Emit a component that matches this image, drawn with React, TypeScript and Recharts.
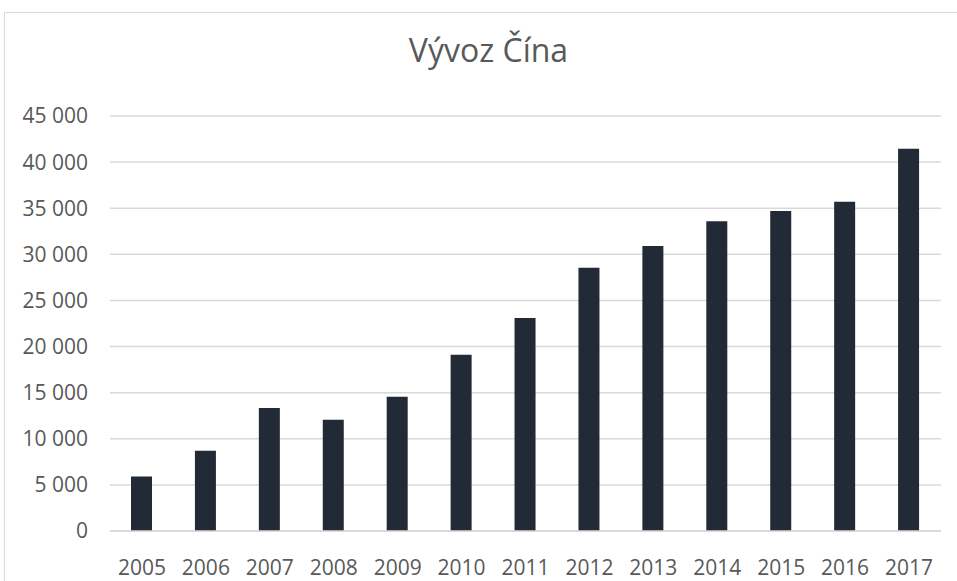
import { Bar, BarChart, CartesianGrid, XAxis, YAxis } from 'recharts'

const years = ['2005', '2006', '2007', '2008', '2009', '2010', '2011', '2012', '2013', '2014', '2015', '2016', '2017']
const exports = [5900, 8700, 13350, 12050, 14550, 19100, 23100, 28550, 30900, 33600, 34700, 35700, 41450]
const yTicks = [0, 5000, 10000, 15000, 20000, 25000, 30000, 35000, 40000, 45000]

const data = years.map((year, i) => ({ year, value: exports[i] }))

const fmt = (v: number) => String(v).replace(/\B(?=(\d{3})+(?!\d))/g, ' ')

const font = '"Open Sans", sans-serif'

export default function App() {
  return (
    <div style={{ position: 'absolute', left: 0, top: 0, width: 957, height: 581, overflow: 'hidden', background: '#fff', fontFamily: font }}>
      {/* chart frame, cut off on the right and bottom like the screenshot */}
      <div style={{ position: 'absolute', left: 4, top: 12, width: 1000, height: 700, border: '1.5px solid #d9d9d9' }} />
      <div style={{ position: 'absolute', left: 0, top: 30, width: 977, textAlign: 'center', fontSize: 32, color: '#595959', lineHeight: '40px' }}>
        Vývoz Čína
      </div>
      <div style={{ position: 'absolute', left: 0, top: 0 }}>
        <BarChart width={957} height={581} data={data} margin={{ top: 116, right: 16, left: 0, bottom: 0 }} barSize={21}>
          <CartesianGrid vertical={false} stroke="#d9d9d9" strokeWidth={1.5} />
          <XAxis
            dataKey="year"
            height={50}
            tickLine={false}
            tickSize={0}
            tickMargin={29}
            axisLine={{ stroke: '#d9d9d9', strokeWidth: 1.5 }}
            tick={{ fill: '#595959', fontSize: 21, fontFamily: font }}
          />
          <YAxis
            width={110}
            domain={[0, 45000]}
            ticks={yTicks}
            interval={0}
            axisLine={false}
            tickLine={false}
            tickSize={0}
            tickMargin={22}
            tickFormatter={fmt}
            tick={{ fill: '#595959', fontSize: 21, fontFamily: font }}
          />
          <Bar dataKey="value" fill="#222a35" isAnimationActive={false} />
        </BarChart>
      </div>
    </div>
  )
}
